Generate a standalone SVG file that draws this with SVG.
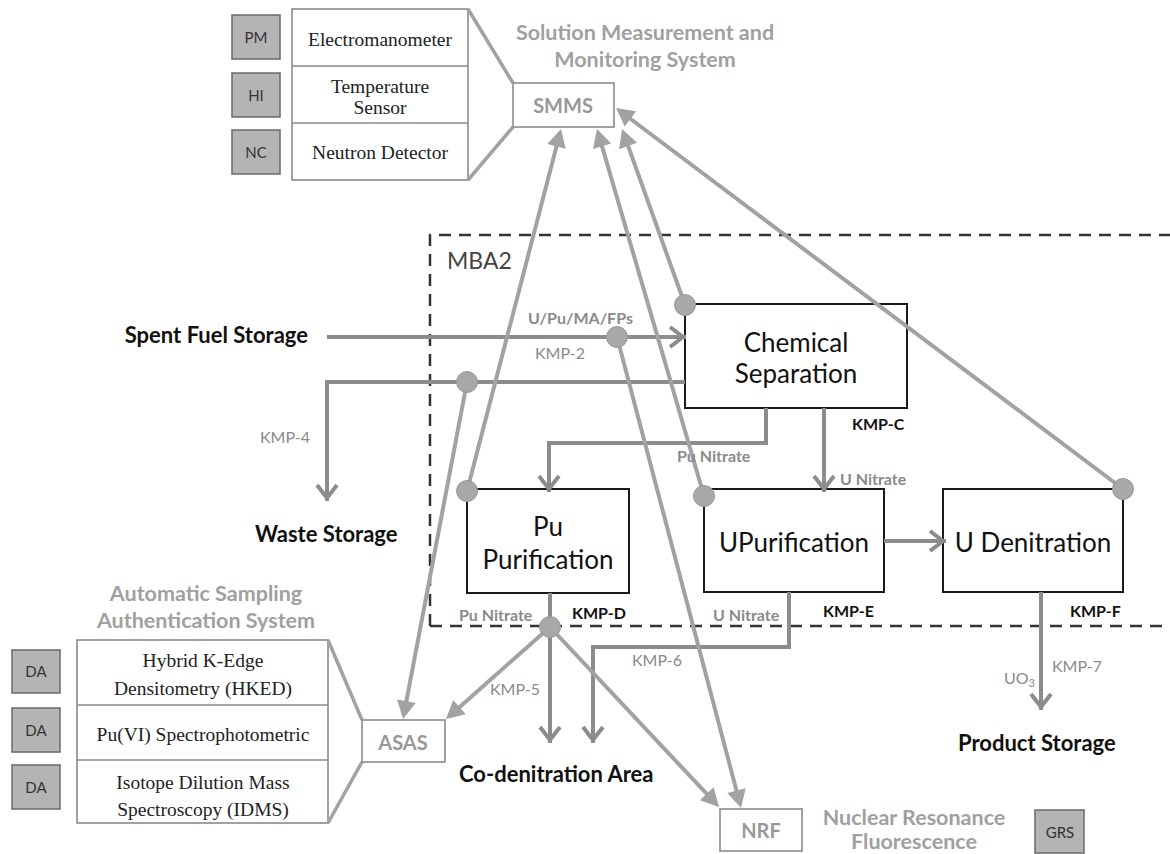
<svg xmlns="http://www.w3.org/2000/svg" width="1170" height="854" viewBox="0 0 1170 854">
  <style>
    .box { fill: #fff; stroke: #1a1a1a; stroke-width: 2; }
    .ibox { fill: #fff; stroke: #8a8a8a; stroke-width: 1.6; }
    .gbox { fill: #b4b4b4; stroke: #707070; stroke-width: 1.6; }
    .flow { fill: none; stroke: #8c8c8c; stroke-width: 4; marker-end: url(#chev); }
    .inst { fill: none; stroke: #a2a2a2; stroke-width: 4; marker-end: url(#tri); }
    .link { fill: none; stroke: #a2a2a2; stroke-width: 3.5; }
    .dot { fill: #a8a8a8; stroke: #999; stroke-width: 1; }
    .mba { fill: none; stroke: #333; stroke-width: 2.5; stroke-dasharray: 12 8; }
    text { font-family: Lato, "Liberation Sans", sans-serif; dominant-baseline: central; }
    .node { font-size: 26px; fill: #111; text-anchor: middle; }
    .serif { font-family: "Liberation Serif", "Times New Roman", serif; font-size: 19.5px; fill: #222; text-anchor: middle; }
    .tag { font-size: 15px; fill: #333; text-anchor: middle; }
    .title { font-size: 21.5px; font-weight: bold; fill: #a0a0a0; text-anchor: middle; }
    .sys { font-size: 20px; font-weight: bold; fill: #999; text-anchor: middle; }
    .area { font-size: 22px; font-weight: bold; fill: #111; }
    .kmp { font-size: 16px; font-weight: bold; fill: #111; }
    .gl { font-size: 16px; fill: #8a8a8a; }
    .glb { font-size: 16px; font-weight: bold; fill: #8a8a8a; }
  </style>
  <defs>
    <marker id="chev" markerUnits="userSpaceOnUse" viewBox="-20 -14 24 28" refX="0" refY="0" markerWidth="24" markerHeight="28" orient="auto" overflow="visible">
      <path d="M-16,-10 L-3,0 L-16,10" fill="none" stroke="#8c8c8c" stroke-width="4"/>
    </marker>
    <marker id="tri" markerUnits="userSpaceOnUse" viewBox="-10 -12 24 24" refX="0" refY="0" markerWidth="24" markerHeight="24" orient="auto" overflow="visible">
      <path d="M-8,-9.5 L10,0 L-8,9.5 Z" fill="#a2a2a2"/>
    </marker>
  </defs>

  <rect width="1170" height="854" fill="#fff"/>

  <!-- material balance area boundary -->
  <g id="mba2">
    <path class="mba" d="M430,626 V235 H1178 M430,626 H1178"/>
    <text x="447" y="260" style="font-size:23px;fill:#444">MBA2</text>
  </g>

  <!-- SMMS instrument group -->
  <g id="smms-instruments">
    <rect class="gbox" x="232" y="15" width="48" height="44"/>
    <text class="tag" x="256" y="37">PM</text>
    <rect class="gbox" x="232" y="73" width="48" height="44"/>
    <text class="tag" x="256" y="95">HI</text>
    <rect class="gbox" x="232" y="130" width="48" height="44"/>
    <text class="tag" x="256" y="152">NC</text>
    <rect class="ibox" x="292" y="9" width="176" height="171"/>
    <line class="ibox" x1="292" y1="66" x2="468" y2="66"/>
    <line class="ibox" x1="292" y1="123" x2="468" y2="123"/>
    <text class="serif" x="380" y="39">Electromanometer</text>
    <text class="serif" x="380" y="86">Temperature</text>
    <text class="serif" x="380" y="107">Sensor</text>
    <text class="serif" x="380" y="152">Neutron Detector</text>
    <path class="link" d="M468,9 L513,83 M468,180 L513,127"/>
  </g>

  <g id="smms">
    <rect class="ibox" x="513" y="83" width="101" height="44"/>
    <text class="sys" x="563" y="105">SMMS</text>
    <text class="title" x="645" y="32">Solution Measurement and</text>
    <text class="title" x="645" y="59">Monitoring System</text>
  </g>

  <!-- ASAS instrument group -->
  <g id="asas-instruments">
    <rect class="gbox" x="12" y="650" width="48" height="43"/>
    <text class="tag" x="36" y="671">DA</text>
    <rect class="gbox" x="12" y="708" width="48" height="44"/>
    <text class="tag" x="36" y="730">DA</text>
    <rect class="gbox" x="12" y="765" width="48" height="44"/>
    <text class="tag" x="36" y="787">DA</text>
    <rect class="ibox" x="77" y="640" width="251" height="183"/>
    <line class="ibox" x1="77" y1="705" x2="328" y2="705"/>
    <line class="ibox" x1="77" y1="760" x2="328" y2="760"/>
    <text class="serif" x="203" y="660">Hybrid K-Edge</text>
    <text class="serif" x="203" y="688">Densitometry (HKED)</text>
    <text class="serif" x="203" y="734">Pu(VI) Spectrophotometric</text>
    <text class="serif" x="203" y="782">Isotope Dilution Mass</text>
    <text class="serif" x="203" y="809">Spectroscopy (IDMS)</text>
    <path class="link" d="M328,640 L362,720 M328,823 L362,762"/>
  </g>

  <g id="asas">
    <rect class="ibox" x="362" y="720" width="83" height="42"/>
    <text class="sys" x="403" y="742">ASAS</text>
    <text class="title" x="206" y="593">Automatic Sampling</text>
    <text class="title" x="206" y="620">Authentication System</text>
  </g>

  <g id="nrf">
    <rect class="ibox" x="720" y="809" width="82" height="42"/>
    <text class="sys" x="761" y="830">NRF</text>
    <text class="title" x="914" y="817">Nuclear Resonance</text>
    <text class="title" x="914" y="841">Fluorescence</text>
    <rect class="gbox" x="1035" y="810" width="49" height="43"/>
    <text class="tag" x="1060" y="832">GRS</text>
  </g>

  <!-- process nodes -->
  <g id="chemical-separation">
    <rect class="box" x="685" y="304" width="222" height="104"/>
    <text class="node" x="796" y="342">Chemical</text>
    <text class="node" x="796" y="373">Separation</text>
    <text class="kmp" x="852" y="423">KMP-C</text>
  </g>
  <g id="pu-purification">
    <rect class="box" x="467" y="489" width="162" height="104"/>
    <text class="node" x="548" y="526">Pu</text>
    <text class="node" x="548" y="559">Purification</text>
    <text class="kmp" x="572" y="612">KMP-D</text>
  </g>
  <g id="u-purification">
    <rect class="box" x="704" y="489" width="180" height="103"/>
    <text class="node" x="794" y="542">UPurification</text>
    <text class="kmp" x="823" y="610">KMP-E</text>
  </g>
  <g id="u-denitration">
    <rect class="box" x="943" y="489" width="180" height="103"/>
    <text class="node" x="1033" y="542">U Denitration</text>
    <text class="kmp" x="1070" y="610">KMP-F</text>
  </g>

  <!-- storage areas -->
  <g id="spent-fuel-storage"><text class="area" x="308" y="334" text-anchor="end">Spent Fuel Storage</text></g>
  <g id="waste-storage"><text class="area" x="255" y="533">Waste Storage</text></g>
  <g id="co-denitration-area"><text class="area" x="459" y="773">Co-denitration Area</text></g>
  <g id="product-storage"><text class="area" x="958" y="742">Product Storage</text></g>

  <!-- material flows and measurement links -->
  <g id="connectors">
    <path class="flow" d="M327,337 H686"/>
    <path class="flow" d="M685,382 H327 V501"/>
    <path class="flow" d="M766,408 V443 H549 V492"/>
    <path class="flow" d="M824,408 V492"/>
    <path class="flow" d="M884,541 H946"/>
    <path class="flow" d="M550,593 V743"/>
    <path class="flow" d="M789,592 V647 H593 V743"/>
    <path class="flow" d="M1041,592 V710"/>

    <line class="inst" x1="467" y1="491" x2="558.5" y2="138.7"/>
    <line class="inst" x1="704" y1="496" x2="599.8" y2="138.6"/>
    <line class="inst" x1="685" y1="305" x2="625.4" y2="138.4"/>
    <line class="inst" x1="1123" y1="489" x2="624" y2="114"/>
    <line class="inst" x1="467" y1="382" x2="404.9" y2="709.2"/>
    <line class="inst" x1="550" y1="627" x2="453.5" y2="712.4"/>
    <line class="inst" x1="550" y1="627" x2="712.2" y2="799.7"/>
    <line class="inst" x1="617" y1="337" x2="738.5" y2="798.3"/>

    <circle class="dot" cx="685" cy="305" r="10.5"/>
    <circle class="dot" cx="617" cy="337" r="10.5"/>
    <circle class="dot" cx="467" cy="382" r="10.5"/>
    <circle class="dot" cx="467" cy="491" r="10.5"/>
    <circle class="dot" cx="704" cy="496" r="10.5"/>
    <circle class="dot" cx="1123" cy="489" r="10.5"/>
    <circle class="dot" cx="550" cy="627" r="10.5"/>

    <text class="glb" x="528" y="317">U/Pu/MA/FPs</text>
    <text class="gl" x="535" y="352">KMP-2</text>
    <text class="gl" x="260" y="436">KMP-4</text>
    <text class="glb" x="677" y="455">Pu Nitrate</text>
    <text class="glb" x="840" y="478">U Nitrate</text>
    <text class="glb" x="459" y="614">Pu Nitrate</text>
    <text class="glb" x="713" y="614">U Nitrate</text>
    <text class="gl" x="490" y="688">KMP-5</text>
    <text class="gl" x="632" y="659">KMP-6</text>
    <text class="gl" x="1052" y="665">KMP-7</text>
    <text class="gl" x="1004" y="677">UO<tspan font-size="11" dy="5">3</tspan></text>
  </g>
</svg>
